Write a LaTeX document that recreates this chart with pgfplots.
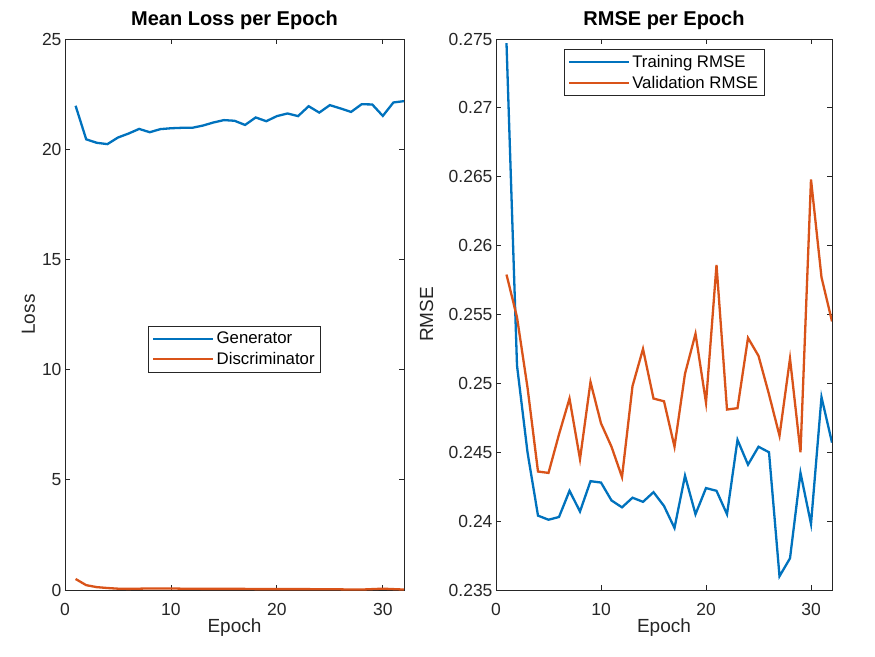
\documentclass[border=0pt]{standalone}
\usepackage{fontspec}
\setmainfont{Liberation Sans}
\usepackage{pgfplots}
\pgfplotsset{compat=1.18}
\definecolor{mblue}{rgb}{0,0.447,0.741}
\definecolor{mred}{rgb}{0.85,0.325,0.098}
\definecolor{axgray}{rgb}{0.15,0.15,0.15}
\begin{document}
\begin{tikzpicture}
\useasboundingbox (0pt,0pt) rectangle (875pt,656pt);
\pgfplotsset{
  mstyle/.style={
    scale only axis, anchor=south west,
    axis line style={axgray, line width=0.8pt},
    tick style={axgray, line width=0.8pt},
    major tick length=5pt,
    tick align=inside,
    xtick pos=both, ytick pos=both,
    ticklabel style={font=\fontsize{17.5}{20}\selectfont, text=axgray},
    xticklabel style={anchor=base, yshift=-25pt},
    /pgf/number format/assume math mode=true,
    label style={font=\fontsize{19}{22}\selectfont, text=axgray},
    title style={font=\fontsize{20}{24}\selectfont\bfseries, at={(axis description cs:0.5,1)}, anchor=base, yshift=7pt},
    legend style={font=\fontsize{16.8}{19}\selectfont, draw=axgray, line width=0.8pt, inner xsep=4pt, inner ysep=4pt, row sep=3pt},
    legend cell align=left,
    legend image code/.code={\draw[#1, line width=2.3pt] (0pt,0pt) -- (60pt,0pt);},
    every axis plot/.append style={line width=2.3pt},
    xmin=0, xmax=32, xtick={0,10,20,30},
    xlabel={Epoch},
    xlabel style={at={(axis description cs:0.5,0)}, anchor=base, yshift=-42pt},
  }
}
\begin{axis}[mstyle, at={(65pt,66pt)}, width=339pt, height=551pt,
  ymin=0, ymax=25, ytick={0,5,10,15,20,25},
  ylabel={Loss},
  ylabel style={at={(axis description cs:0,0.5)}, anchor=base, yshift=30pt},
  title={Mean Loss per Epoch},
  legend style={at={(0.5,0.437)}, anchor=center}]
\addplot[mblue] coordinates {
(1,21.97)(2,20.45)(3,20.29)(4,20.23)(5,20.53)(6,20.71)(7,20.92)(8,20.77)
(9,20.91)(10,20.95)(11,20.97)(12,20.97)(13,21.07)(14,21.21)(15,21.32)(16,21.29)
(17,21.10)(18,21.44)(19,21.27)(20,21.50)(21,21.62)(22,21.50)(23,21.95)(24,21.66)
(25,22.00)(26,21.85)(27,21.69)(28,22.04)(29,22.03)(30,21.51)(31,22.12)(32,22.18)};
\addlegendentry{Generator}
\addplot[mred] coordinates {
(1,0.50)(2,0.22)(3,0.13)(4,0.09)(5,0.06)(6,0.05)(7,0.06)(8,0.07)
(9,0.07)(10,0.07)(11,0.06)(12,0.06)(13,0.05)(14,0.05)(15,0.05)(16,0.05)
(17,0.05)(18,0.04)(19,0.04)(20,0.04)(21,0.04)(22,0.04)(23,0.04)(24,0.03)
(25,0.03)(26,0.03)(27,0.02)(28,0.02)(29,0.04)(30,0.06)(31,0.04)(32,0.02)};
\addlegendentry{Discriminator}
\end{axis}
\begin{axis}[mstyle, at={(496pt,66pt)}, width=336pt, height=551pt,
  ymin=0.235, ymax=0.275, ytick={0.235,0.24,0.245,0.25,0.255,0.26,0.265,0.27,0.275},
  yticklabel style={/pgf/number format/fixed, /pgf/number format/precision=3},
  scaled y ticks=false,
  ylabel={RMSE},
  ylabel style={at={(axis description cs:0,0.5)}, anchor=base, yshift=63pt},
  title={RMSE per Epoch},
  legend style={at={(0.5,0.982)}, anchor=north}]
\addplot[mblue] coordinates {
(1,0.2747)(2,0.2513)(3,0.2450)(4,0.2404)(5,0.2401)(6,0.2403)(7,0.2422)(8,0.2407)
(9,0.2429)(10,0.2428)(11,0.2415)(12,0.2410)(13,0.2417)(14,0.2414)(15,0.2421)(16,0.2411)
(17,0.2395)(18,0.2433)(19,0.2405)(20,0.2424)(21,0.2422)(22,0.2405)(23,0.2459)(24,0.2441)
(25,0.2454)(26,0.2450)(27,0.2360)(28,0.2373)(29,0.2435)(30,0.2398)(31,0.2490)(32,0.2457)};
\addlegendentry{Training RMSE}
\addplot[mred] coordinates {
(1,0.2579)(2,0.2548)(3,0.2497)(4,0.2436)(5,0.2435)(6,0.2463)(7,0.2489)(8,0.2445)
(9,0.2501)(10,0.2471)(11,0.2454)(12,0.2432)(13,0.2498)(14,0.2525)(15,0.2489)(16,0.2487)
(17,0.2454)(18,0.2507)(19,0.2536)(20,0.2486)(21,0.2586)(22,0.2481)(23,0.2482)(24,0.2533)
(25,0.2520)(26,0.2492)(27,0.2462)(28,0.2518)(29,0.2450)(30,0.2648)(31,0.2577)(32,0.2545)};
\addlegendentry{Validation RMSE}
\end{axis}
\end{tikzpicture}
\end{document}
